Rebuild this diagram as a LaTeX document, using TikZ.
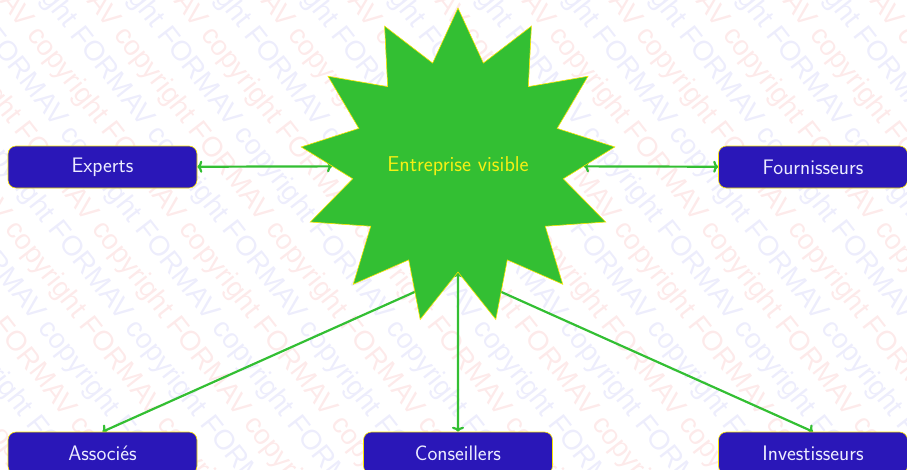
\documentclass[tikz,border=0pt]{standalone}
\usepackage{fontspec}
\newfontfamily\wmfont{Liberation Sans}
\usetikzlibrary{shapes.geometric,arrows.meta}
\definecolor{stargreen}{RGB}{51,191,51}
\definecolor{boxblue}{RGB}{42,23,184}
\definecolor{boxtext}{RGB}{236,236,255}
\definecolor{staryellow}{RGB}{245,240,20}
\definecolor{edgeyellow}{RGB}{250,230,0}
\definecolor{wmred}{RGB}{253,234,234}
\definecolor{wmblue}{RGB}{237,237,252}
\pgfdeclarelayer{wm}
\pgfdeclarelayer{bg}
\pgfsetlayers{wm,bg,main}
\tikzset{
  actor/.style={draw=edgeyellow, line width=0.6pt, fill=boxblue, rounded corners=8pt,
    minimum width=189pt, minimum height=42pt, inner sep=0pt, text=boxtext,
    font=\sffamily\fontsize{21}{24}\selectfont},
  hub/.style={star, star points=13, star point ratio=1.49, minimum size=316pt,
    inner sep=0pt, fill=stargreen, draw=edgeyellow, line width=0.6pt, text=staryellow,
    font=\sffamily\fontsize{21.5}{24}\selectfont},
  link/.style={draw=stargreen, line width=2.2pt, >={To[length=5pt,width=12pt]}},
  wmline/.style={rotate=-52, anchor=base west, inner sep=0pt,
    font=\wmfont\fontsize{28}{30}\selectfont},
}
\begin{document}
\begin{tikzpicture}[x=1pt,y=-1pt]
\useasboundingbox (0,0) rectangle (907,469);
\begin{pgfonlayer}{wm}
\begin{scope}
\clip (0,0) rectangle (907,469);
\foreach \k in {-3,...,13} {
  \node[wmline, text=wmred] (wr\k) at ({-452+87*\k},-354)
    {copyright FORMAV copyright FORMAV copyright FORMAV copyright FORMAV copyright FORMAV};
  \node[wmline, text=wmblue] (wb\k) at ({-408.5+87*\k},-354)
    {FORMAV copyright FORMAV copyright FORMAV copyright FORMAV copyright FORMAV copyright};
}
\end{scope}
\end{pgfonlayer}
\node[hub] (E) at (458,166) {Entreprise visible};
\node[actor] (X) at (102.5,167) {Experts};
\node[actor] (F) at (813,167) {Fournisseurs};
\node[actor] (A) at (102.5,453) {Associés};
\node[actor] (C) at (458,453) {Conseillers};
\node[actor] (I) at (813,453) {Investisseurs};
\begin{pgfonlayer}{bg}
\draw[link,<->] (X) -- (E);
\draw[link,<->] (F) -- (E);
\draw[link,<->] (E) -- (C);
\draw[link,->] (E.south) -- (A.north);
\draw[link,->] (E.south) -- (I.north);
\end{pgfonlayer}
\end{tikzpicture}
\end{document}
